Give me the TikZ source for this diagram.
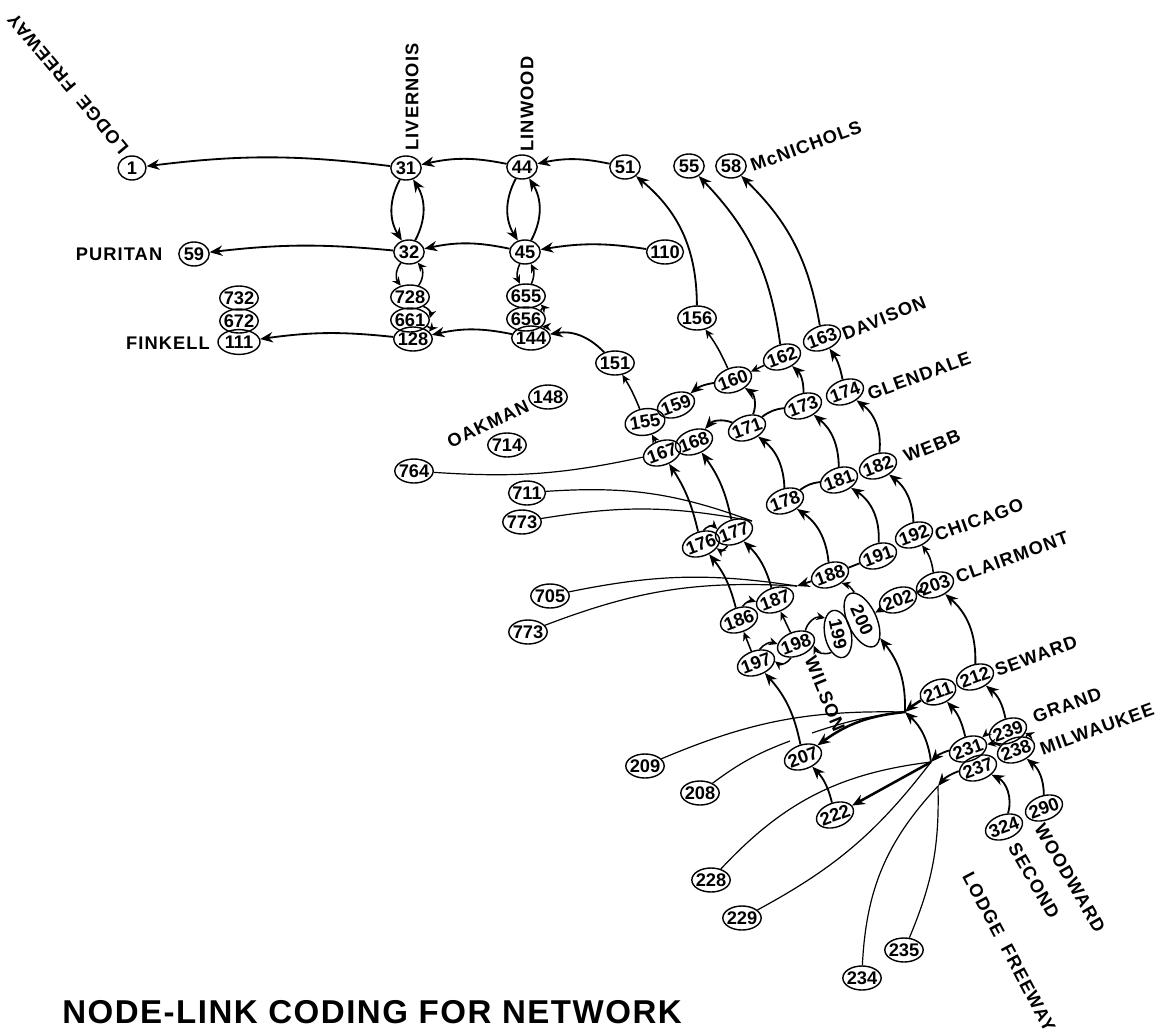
\documentclass[tikz,border=0pt]{standalone}
\usepackage{fontspec}
\setmainfont{Liberation Sans}
\usetikzlibrary{arrows.meta,shapes.geometric}
\tikzset{
  junc/.style={draw, ellipse, line width=1pt, inner sep=-1.2pt, minimum width=0.76cm, minimum height=0.6cm,
              font=\fontsize{13}{13}\selectfont\bfseries},
  tilt/.style={junc, rotate=20},
  road/.style={inner sep=0pt, font=\fontsize{13}{14}\selectfont\bfseries\addfontfeature{LetterSpace=6}},
  flow/.style={-{Stealth[length=3.2mm,width=2.6mm]}, line width=1.3pt},
  stub/.style={-{Stealth[length=2.2mm,width=2mm]}, line width=1.1pt},
  link/.style={line width=1.3pt},
  feeder/.style={line width=0.85pt},
}
\begin{document}
\begin{tikzpicture}[x=0.025cm,y=-0.025cm]
  \useasboundingbox (0,0) rectangle (1160,1034);
  % junctions
  \foreach \nm/\px/\py in {31/406/168,44/522/167,51/625/167,55/689/166,58/731/166,
      32/409/252,45/525/252,110/665/252,59/194/254,728/410/297,655/526/296,661/410/320,
      656/526/319,128/413/339,144/531/338,732/239/298,672/239/321,151/615/363,156/697/318,
      148/548/397,714/507/445,764/414/471,711/527/493,705/550/596,209/645/766,208/700/793,
      228/711/880,229/742/918,235/904/950,234/862/978}
    \node[junc] (n\nm) at (\px,\py) {\nm};
  \foreach \nm/\px/\py in {160/733/380,162/782/357,163/822/338,159/676/405,167/662/453,
      168/694/442,171/747/428,173/803/406,174/845/392,181/839/480,178/785/501,182/878/466,
      191/878/556,192/914/535,188/830/575,176/701/544,177/734/532,186/739/620,187/775/600,
      197/756/663,198/796/644,202/898/600,203/935/585,212/975/677,211/938/692,207/803/757,
      231/968/749,237/978/768,239/1008/731,238/1016/750,290/1044/808,324/1004/827,222/835/815}
    \node[tilt] (n\nm) at (\px,\py) {\nm};
  \node[junc,minimum width=0.7cm] (n1) at (132,168) {1};
  \node[junc,minimum width=1.05cm,minimum height=0.62cm] (n111) at (239,342) {111};
  \node[tilt,rotate=-10,minimum width=1cm,minimum height=0.66cm] (n155) at (645,422) {155};
  \node[junc] (n773a) at (522,522) {773};
  \node[junc] (n773b) at (528,632) {773};
  \node[junc,rotate=-78,minimum width=1.2cm,minimum height=0.66cm] (n199) at (838,634) {199};
  \node[junc,rotate=-65,minimum width=1.45cm,minimum height=0.72cm] (n200) at (862,620) {200};
  % where links run together
  \coordinate (jTop) at (752,521);
  \coordinate (jClair) at (797,586);
  \coordinate (jMid) at (905,712);
  \coordinate (jLow) at (931,762);
  \coordinate (jSub) at (938,786);
  \coordinate (gapL) at (790,741);
  \coordinate (gapR) at (812,733);
  % the streets
  \draw[flow] (n31) to[bend right=7] (n1);
  \draw[flow] (n44) to[bend right=12] (n31);
  \draw[flow] (n51) to[bend right=12] (n44);
  \draw[flow] (n32) to[bend right=6] (n59);
  \draw[flow] (n45) to[bend right=12] (n32);
  \draw[flow] (n110) to[bend right=9] (n45);
  \draw[flow] (n128) to[bend right=7] (n111);
  \draw[flow] (n144) to[bend right=12] (n128);
  \draw[flow] (n31) to[bend right=30] (n32);
  \draw[flow] (n32) to[bend right=30] (n31);
  \draw[flow] (n44) to[bend right=30] (n45);
  \draw[flow] (n45) to[bend right=30] (n44);
  \draw[stub] (n32) to[bend right=38] (n728);
  \draw[stub] (n728) to[bend right=38] (n32);
  \draw[stub] (n45) to[bend right=25] (n655);
  \draw[stub] (n655) to[bend right=25] (n45);
  \draw[stub] (n728.-35) to[bend left=45] (n661.5);
  \draw[stub] (n661.-20) to[bend left=60] (n128.25);
  \draw[stub] (n656.30) to[bend right=45] (n655.-30);
  \draw[stub] (n144.35) to[bend right=40] (n656.-25);
  \draw[flow] (n151) to[bend right=28] (n144);
  \draw[stub] (n155) to[bend right=5] (n151);
  \draw[flow] (n156) to[bend right=25] (n51);
  \draw[stub] (n160) to[bend right=6] (n156);
  \draw[flow] (n162) to[bend right=18] (n55);
  \draw[flow] (n163) to[bend right=18] (n58);
  \draw[stub] (n162) -- (n160);
  \draw[flow] (n160) to[bend right=15] (n159);
  \draw[flow] (n171) to[bend right=40] (n160);
  \draw[flow] (n173) to[bend right=25] (n162);
  \draw[flow] (n174) to[bend right=12] (n163);
  \draw[flow] (n171) to[bend right=35] (n168);
  \draw[link] (n173) to[bend right=15] (n171);
  \draw[link] (n181) to[bend right=15] (n178);
  \draw[link] (n191) -- (n188);
  \draw[flow] (n178) to[bend right=25] (n171);
  \draw[flow] (n181) to[bend right=25] (n173);
  \draw[flow] (n182) to[bend right=30] (n174);
  \draw[flow] (n188) to[bend right=25] (n178);
  \draw[flow] (n191) to[bend right=30] (n181);
  \draw[flow] (n192) to[bend right=25] (n182);
  \draw[stub] (n203) to[bend right=15] (n192);
  \draw[stub] (n203) -- (n202);
  \draw[stub] (n202) -- (n200);
  \draw[stub] (n200) to[bend right=20] (n188);
  \draw[flow] (n212) to[bend right=25] (n203);
  \draw[flow] (n239) to[bend right=20] (n212);
  \draw[flow] (n231) to[bend right=15] (n211);
  \draw[stub] (n167) -- (n155);
  \draw[flow] (n176) to[bend right=10] (n167);
  \draw[flow] (n177) to[bend right=12] (n168);
  \draw[flow] (n186) to[bend right=12] (n176);
  \draw[flow] (n187) to[bend right=15] (n177);
  \draw[stub] (n197) -- (n186);
  \draw[stub] (n198) -- (n187);
  \draw[stub] (n186.55) to[bend left=35] (n187.165);
  \draw[stub] (n176.60) to[bend left=50] (n177.150);
  \draw[stub] (n177.225) to[bend left=50] (n176.-35);
  \draw[stub] (n197.55) to[bend left=35] (n198.160);
  \draw[stub] (n198.230) to[bend left=50] (n197.-15);
  \draw[stub] (n198.35) to[bend left=45] (n199);
  \draw[stub] (n199) to[bend left=45] (n198.-25);
  \draw[flow] (n207) to[bend right=15] (n197);
  \draw[flow] (n222) to[bend right=15] (n207);
  \draw[flow,line width=1.8pt] (n211) to[bend right=5] (jMid);
  \draw[flow] (jMid) to[bend right=20] (n200);
  \draw[flow,line width=1.8pt] (jMid) to[bend right=15] (n207);
  \draw[flow] (jLow) to[bend right=20] (jMid);
  \draw[flow] (n231) to[bend right=15] (jLow);
  \draw[flow,line width=1.8pt] (jLow) -- (n222);
  \draw[flow] (n237) to[bend right=15] (jSub);
  \draw[flow] (n324) to[bend right=40] (n237);
  \draw[flow] (n290) to[bend right=25] (n238);
  \draw[stub] (n239) to[bend right=15] (n231);
  \draw[stub] (n238) to[bend right=15] (n231);
  \draw[stub] (n238) to[bend right=60] (n239);
  \draw[flow] (n188) -- (jClair);
  % the long thin feeders
  \draw[feeder] (n764) to[bend right=8] (n167);
  \draw[feeder] (n711) to[bend left=12] (jTop);
  \draw[feeder] (n773a) to[bend left=10] (jTop);
  \draw[feeder] (n705) to[bend left=10] (jClair);
  \draw[feeder] (n773b) to[bend left=12] (jClair);
  \draw[feeder] (n209) to[bend left=12] (jMid);
  \draw[feeder] (n208) to[bend left=8] (gapL);
  \draw[feeder] (gapR) to[bend left=6] (jMid);
  \draw[feeder] (n228) to[bend left=20] (jLow);
  \draw[feeder] (n229) to[bend right=12] (jLow);
  \draw[feeder] (n234) to[bend left=20] (jSub);
  \draw[feeder] (n235) to[bend right=12] (jSub);
  % street names
  \node[road,rotate=130] (tLodgeN) at (68,84) {LODGE\ \ FREEWAY};
  \node[road,rotate=90] (tLivernois) at (412,97) {LIVERNOIS};
  \node[road,rotate=90] (tLinwood) at (527,104) {LINWOOD};
  \node[road,rotate=20] (tMcnichols) at (806,146) {McNICHOLS};
  \node[road] (tPuritan) at (119,254) {PURITAN};
  \node[road] (tFinkell) at (168,343) {FINKELL};
  \node[road,rotate=25] (tOakman) at (488,424) {OAKMAN};
  \node[road,rotate=22] (tDavison) at (884,318) {DAVISON};
  \node[road,rotate=20] (tGlendale) at (919,376) {GLENDALE};
  \node[road,rotate=22] (tWebb) at (932,446) {WEBB};
  \node[road,rotate=20] (tChicago) at (979,520) {CHICAGO};
  \node[road,rotate=20] (tClairmont) at (1012,557) {CLAIRMONT};
  \node[road,rotate=20] (tSeward) at (1036,656) {SEWARD};
  \node[road,rotate=20] (tGrand) at (1067,705) {GRAND};
  \node[road,rotate=20] (tMilwaukee) at (1097,729) {MILWAUKEE};
  \node[road,rotate=-68] (tWilson) at (825,694) {WILSON};
  \node[road,rotate=-60] (tWoodward) at (1070,878) {WOODWARD};
  \node[road,rotate=-60] (tSecond) at (1034,881) {SECOND};
  \node[road,rotate=-62] (tLodgeS) at (1009,952) {LODGE\ \ FREEWAY};
  \node[inner sep=0pt,anchor=west,font=\fontsize{23.5}{24}\selectfont\bfseries\addfontfeature{LetterSpace=4.5}] (tTitle) at (62,1012) {NODE-LINK CODING FOR NETWORK};
\end{tikzpicture}
\end{document}
